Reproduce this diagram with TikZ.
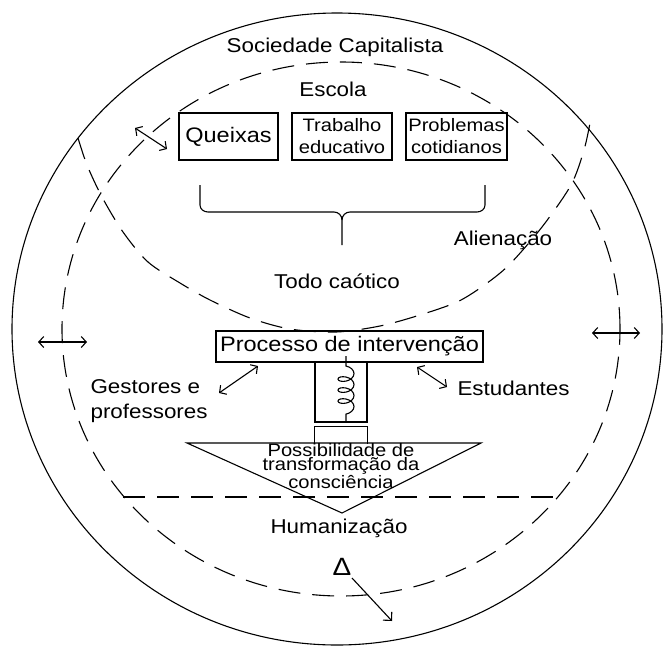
\documentclass[tikz,border=0pt]{standalone}
\usepackage{fontspec}
\setmainfont[FakeStretch=1.12]{Liberation Sans}
\usetikzlibrary{arrows.meta,decorations.pathmorphing}
\begin{document}
\begin{tikzpicture}[x=1pt,y=-1pt, line width=1.1pt,
  lab/.style={font=\fontsize{20}{24}\selectfont, inner sep=0pt, anchor=base},
  boxtext/.style={draw, font=\fontsize{18}{22}\selectfont, align=center, inner sep=0pt, minimum height=47pt},
  dsh/.style={dash pattern=on 22pt off 12pt},
  barb/.style={Straight Barb[length=5pt,width=11pt]},
  dbl/.style={{Straight Barb[length=5pt,width=11pt]}-{Straight Barb[length=5pt,width=11pt]}},
  sgl/.style={-{Straight Barb[length=6pt,width=12pt]}}]
\useasboundingbox (0,0) rectangle (664,646);
% outer society circle
\draw (337,329) ellipse [x radius=325pt, y radius=316pt];
% big dashed ellipse
\draw[dsh] (341,329) ellipse [x radius=279pt, y radius=267pt];
% school bowl
\draw[dsh] plot[smooth] coordinates {(78,138) (87,165) (102,197) (123,232) (148,262) (180,283) (210,300) (250,318) (290,329) (336,332) (380,326) (420,315) (457,302) (483,286) (509,265) (542,227) (571,185) (584,150) (590,123)};
% horizontal dashed line
\coordinate (hl) at (123,497);
\coordinate (hr) at (561,497);
\draw[dsh] (hl) -- (hr);

% labels
\node[lab] (soc) at (335,52) {Sociedade Capitalista};
\node[lab] (esc) at (333,96) {Escola};
\node[lab] (todo) at (337,288) {Todo caótico};
\node[lab] (alien) at (503,245) {Alienação};
\node[lab, anchor=base west] (gest) at (90,393) {Gestores e};
\node[lab, anchor=base west] (prof) at (90,418) {professores};
\node[lab, anchor=base west] (estu) at (457,395) {Estudantes};
\node[lab] (hum) at (339,533) {Humanização};
\node[lab, font=\fontsize{25}{28}\selectfont] (delta) at (342,575) {Δ};

% boxes
\node[boxtext, minimum width=99pt] (q) at (228.5,136.5) {\fontsize{21}{24}\selectfont Queixas};
\node[boxtext, minimum width=100pt] (t) at (342,136.5) {Trabalho\\educativo};
\node[boxtext, minimum width=101pt] (pr) at (456.5,136.5) {Problemas\\cotidianos};

% brace
\draw (200,185) -- (200,205) to[out=-90,in=180] (208,212) -- (334,212) to[out=0,in=90] (342,220) -- (342,245);
\draw (342,220) to[out=90,in=180] (350,212) -- (477,212) to[out=0,in=-90] (485,205) -- (485,185);

% intervention T
\node[draw, minimum width=267pt, minimum height=31pt, inner sep=0pt, font=\fontsize{21}{24}\selectfont] (proc) at (349.5,346.5) {Processo de intervenção};
\node[draw, minimum width=52pt, minimum height=60pt, inner sep=0pt] (stem) at (341,392) {};
\draw[decorate, decoration={coil, aspect=0.6, segment length=11pt, amplitude=8pt, pre=lineto, pre length=10pt}] (346,356) -- (346,421);
\node[minimum width=52pt, minimum height=16pt, inner sep=0pt] (base) at (341,435) {};
\draw (base.south west) -- (base.north west) -- (base.north east) -- (base.south east);
\coordinate (tl) at (187,443);
\coordinate (tr) at (481,443);
\coordinate (tip) at (342,513);
\draw (tl) -- (tr) -- (tip) -- cycle;
\node[font=\fontsize{18}{14}\selectfont, align=center, inner sep=0pt] (poss) at (341,466.5) {Possibilidade de\\transformação da\\consciência};

% arrows
\coordinate (a1) at (135,128); \coordinate (a2) at (167,149);
\draw[dbl] (a1) -- (a2);
\coordinate (b1) at (38,342); \coordinate (b2) at (87,342);
\draw[dbl] (b1) -- (b2);
\coordinate (c1) at (592,333); \coordinate (c2) at (640,333);
\draw[dbl] (c1) -- (c2);
\coordinate (g1) at (219,393); \coordinate (g2) at (258,366);
\draw[dbl] (g1) -- (g2);
\coordinate (e1) at (417,367); \coordinate (e2) at (447,387);
\draw[dbl] (e1) -- (e2);
\coordinate (d1) at (352,578); \coordinate (d2) at (392,621);
\draw[sgl] (d1) -- (d2);
\end{tikzpicture}
\end{document}
